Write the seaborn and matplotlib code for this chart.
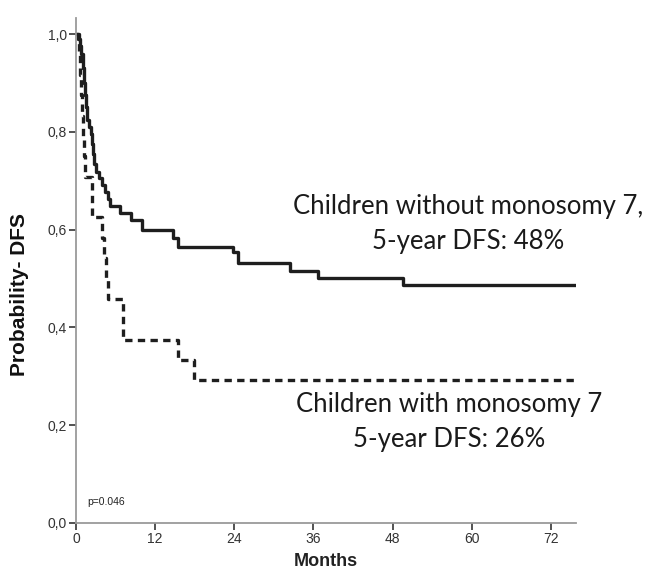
import matplotlib
matplotlib.use("Agg")
import matplotlib.pyplot as plt
import seaborn as sns
import pandas as pd

# Kaplan-Meier step data (months, probability)
months_without = [0, 0.3, 0.6, 0.8, 1.0, 1.15, 1.3, 1.5, 1.7, 1.9, 2.3, 2.45, 2.6, 2.8,
                  3.1, 3.5, 3.9, 4.4, 4.8, 5.2, 6.7, 8.4, 9.95, 14.7, 15.4, 23.8, 24.6,
                  32.4, 36.7, 49.5, 75.8]
dfs_without = [1.0, 0.99, 0.975, 0.96, 0.93, 0.90, 0.875, 0.85, 0.825, 0.81, 0.795, 0.775,
               0.755, 0.735, 0.718, 0.705, 0.692, 0.677, 0.662, 0.648, 0.634, 0.620, 0.600,
               0.583, 0.565, 0.554, 0.531, 0.516, 0.502, 0.487, 0.487]

months_with = [0, 0.38, 0.55, 0.7, 0.85, 1.0, 1.15, 1.36, 2.38, 2.45, 3.9, 4.2, 4.6, 4.9,
               7.2, 15.5, 17.9, 75.8]
dfs_with = [1.0, 0.958, 0.917, 0.875, 0.833, 0.792, 0.75, 0.708, 0.667, 0.625, 0.583,
            0.542, 0.5, 0.458, 0.375, 0.333, 0.292, 0.292]

x_ticks = [0, 12, 24, 36, 48, 60, 72]
y_ticks = [0.0, 0.2, 0.4, 0.6, 0.8, 1.0]
y_tick_labels = ["0,0", "0,2", "0,4", "0,6", "0,8", "1,0"]

label_without = "Children without monosomy 7,\n5-year DFS: 48%"
label_with = "Children with monosomy 7\n5-year DFS: 26%"
p_text = "p=0.046"

sns.set_theme(style="white")
plt.rcParams["font.family"] = ["Liberation Sans", "DejaVu Sans"]

df_without = pd.DataFrame({"Months": months_without, "DFS": dfs_without})
df_with = pd.DataFrame({"Months": months_with, "DFS": dfs_with})

fig = plt.figure(figsize=(6.51, 5.74), dpi=100)
W, H = 651, 574
x0, x1 = 76, 576
y0, y1 = 523, 18
ax = fig.add_axes([x0 / W, (H - y0) / H, (x1 - x0) / W, (y0 - y1) / H])

sns.lineplot(data=df_without, x="Months", y="DFS", ax=ax, estimator=None,
             drawstyle="steps-post", color="#1e1e1e", linewidth=2.4, sort=False)
sns.lineplot(data=df_with, x="Months", y="DFS", ax=ax, estimator=None,
             drawstyle="steps-post", color="#1e1e1e", linewidth=2.4, sort=False,
             linestyle=(0, (2.2, 1.6)))

ax.set_xlim(0, 75.8)
ax.set_ylim(0, (y0 - y1) / 489)
ax.set_xticks(x_ticks)
ax.set_xticklabels([str(v) for v in x_ticks])
ax.set_yticks(y_ticks)
ax.set_yticklabels(y_tick_labels)

for side in ["top", "right"]:
    ax.spines[side].set_visible(False)
for side in ["left", "bottom"]:
    ax.spines[side].set_color("#9a9a9a")
    ax.spines[side].set_linewidth(1.3)

ax.tick_params(axis="both", which="both", direction="out", length=5, width=1.3,
               color="#444444", labelsize=10, labelcolor="#333333", pad=1.5,
               bottom=True, left=True)

ax.set_xlabel("Months", fontsize=13, fontweight="bold", color="#222222")
ax.set_ylabel("Probability- DFS", fontsize=15, fontweight="bold", color="#111111")
ax.yaxis.set_label_coords((29 - x0) / (x1 - x0), (y0 - 295) / (y0 - y1))
ax.xaxis.set_label_coords((326 - x0) / (x1 - x0), (y0 - 553) / (y0 - y1))

ann_font = ["Lato", "DejaVu Sans"]
fig.text(468 / W, (H - 224) / H, label_without, ha="center", va="center",
         fontsize=18.5, family=ann_font, color="#1a1a1a", linespacing=1.5)
fig.text(449 / W, (H - 422) / H, label_with, ha="center", va="center",
         fontsize=18.5, family=ann_font, color="#1a1a1a", linespacing=1.5)
fig.text(87 / W, (H - 502) / H, p_text, ha="left", va="center",
         fontsize=7.5, color="#222222")

fig.savefig("out.png", dpi=100)
